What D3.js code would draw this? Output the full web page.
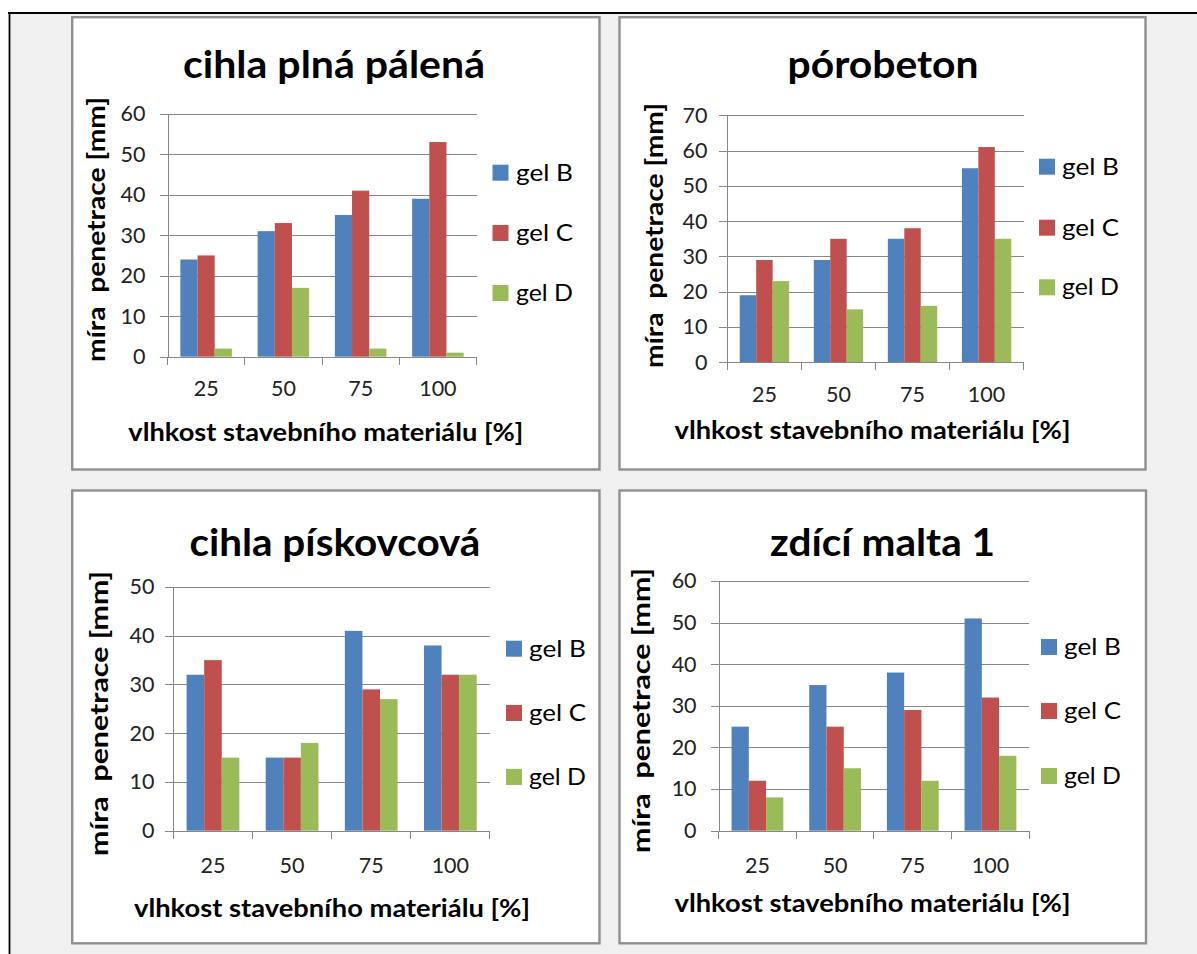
<!DOCTYPE html>
<html lang="cs">
<head>
<meta charset="utf-8">
<title>Míra penetrace gelů podle vlhkosti stavebního materiálu</title>
<script src="https://cdn.jsdelivr.net/npm/d3@7"></script>
<style>
  html, body { margin: 0; padding: 0; background: #ffffff; }
  svg { display: block; }
  text { font-family: Lato, "Open Sans", "DejaVu Sans", sans-serif; }
</style>
</head>
<body>
<svg id="chart" width="1197" height="954"></svg>
<script>
// ---- data ----
const categories = ["25", "50", "75", "100"];
const seriesNames = ["gel B", "gel C", "gel D"];
const seriesColors = ["#4F81BD", "#C0504D", "#9BBB59"];

const panelTitles = ["cihla plná pálená", "pórobeton", "cihla pískovcová", "zdící malta 1"];
const yMaxima = [60, 70, 50, 60];
const yTitle = "míra  penetrace [mm]";
const xTitle = "vlhkost stavebního materiálu [%]";

// cihla plná pálená
const cihlaPlnaB = [24, 31, 35, 39];
const cihlaPlnaC = [25, 33, 41, 53];
const cihlaPlnaD = [2, 17, 2, 1];
// pórobeton
const porobetonB = [19, 29, 35, 55];
const porobetonC = [29, 35, 38, 61];
const porobetonD = [23, 15, 16, 35];
// cihla pískovcová
const piskovcovaB = [32, 15, 41, 38];
const piskovcovaC = [35, 15, 29, 32];
const piskovcovaD = [15, 18, 27, 32];
// zdící malta 1
const maltaB = [25, 35, 38, 51];
const maltaC = [12, 25, 29, 32];
const maltaD = [8, 15, 12, 18];

const panelValues = [
  [cihlaPlnaB, cihlaPlnaC, cihlaPlnaD],
  [porobetonB, porobetonC, porobetonD],
  [piskovcovaB, piskovcovaC, piskovcovaD],
  [maltaB, maltaC, maltaD]
];

// ---- layout of the four chart frames ----
const layouts = [
  { box: [72.2, 17.2, 599.5, 469.5], plot: [167.5, 476.5, 113.7, 356.7],
    title: [334, 78, 302], yT: [105, 229.5, 265], tickPad: 14, xLabPad: 24,
    xT: [325.8, 441, 395], legend: [492.5, [172.7, 233, 293], 516] },
  { box: [619.5, 17.2, 1145.5, 469.5], plot: [727.4, 1023.6, 115.3, 362.3],
    title: [883, 78, 191], yT: [663, 235.5, 265], tickPad: 12, xLabPad: 24.5,
    xT: [872.5, 439, 396], legend: [1039, [166.7, 227.7, 287.3], 1062] },
  { box: [72.2, 490.5, 599.5, 943.3], plot: [173.4, 489.9, 587, 830.7],
    title: [334.9, 556, 291], yT: [108, 713.5, 285], tickPad: 11, xLabPad: 27,
    xT: [332, 917, 396], legend: [506, [648.7, 713, 777], 529] },
  { box: [619.5, 490.5, 1146, 943.3], plot: [718.6, 1029.3, 581, 830.7],
    title: [882.6, 556, 225], yT: [650, 710.5, 285], tickPad: 14, xLabPad: 27,
    xT: [872.5, 912, 396], legend: [1041, [647, 711, 776], 1064] }
];

const svg = d3.select("#chart");
const W = 1197, H = 954;

// page background and the frame lines of the page
svg.append("rect").attr("x", 10).attr("y", 14).attr("width", W - 10).attr("height", H - 14).attr("fill", "#f0f0f0");
svg.append("rect").attr("x", 8).attr("y", 12).attr("width", W - 8).attr("height", 2).attr("fill", "#000");
svg.append("rect").attr("x", 8.6).attr("y", 12).attr("width", 1.8).attr("height", H - 12).attr("fill", "#000");

const gridColor = "#878787";
const textColor = "#222222";

layouts.forEach((L, i) => {
  const g = svg.append("g");
  const [bx0, by0, bx1, by1] = L.box;
  g.append("rect")
    .attr("x", bx0).attr("y", by0).attr("width", bx1 - bx0).attr("height", by1 - by0)
    .attr("fill", "#ffffff").attr("stroke", "#8f8f8f").attr("stroke-width", 2.4);

  const [left, right, top, bottom] = L.plot;
  const y = d3.scaleLinear().domain([0, yMaxima[i]]).range([bottom, top]);
  const x = d3.scaleBand().domain(categories).range([left, right]).paddingInner(0).paddingOuter(0);
  const xs = d3.scaleBand().domain(seriesNames).range([0, x.bandwidth()])
    .paddingInner(0).paddingOuter(0.75);
  const yTicks = d3.range(0, yMaxima[i] + 1, 10);

  // horizontal gridlines
  const grid = g.append("g")
    .attr("transform", `translate(${left},0)`)
    .call(d3.axisLeft(y).tickValues(yTicks).tickSizeInner(-(right - left)).tickSizeOuter(0).tickFormat(""));
  grid.select(".domain").remove();
  grid.selectAll(".tick line").attr("stroke", gridColor).attr("shape-rendering", "crispEdges");

  // value axis with outside tick marks
  const yAxis = g.append("g")
    .attr("transform", `translate(${left},0)`)
    .call(d3.axisLeft(y).tickValues(yTicks).tickSizeInner(8).tickSizeOuter(0).tickPadding(L.tickPad));
  yAxis.select(".domain").attr("stroke", gridColor).attr("shape-rendering", "crispEdges");
  yAxis.selectAll(".tick line").attr("stroke", gridColor).attr("shape-rendering", "crispEdges");
  yAxis.selectAll(".tick text").attr("font-size", 21.5).attr("fill", textColor)
    .attr("font-family", "Lato, sans-serif");

  // bars
  seriesNames.forEach((s, si) => {
    g.append("g").selectAll("rect")
      .data(panelValues[i][si])
      .join("rect")
      .attr("x", (d, ci) => x(categories[ci]) + xs(s))
      .attr("y", d => y(d))
      .attr("width", xs.bandwidth())
      .attr("height", d => y(0) - y(d))
      .attr("fill", seriesColors[si]);
  });

  // category axis: baseline, boundary ticks and labels
  const xAxis = g.append("g")
    .attr("transform", `translate(0,${bottom})`)
    .call(d3.axisBottom(x).tickSize(0).tickPadding(L.xLabPad));
  xAxis.select(".domain").attr("stroke", gridColor).attr("shape-rendering", "crispEdges");
  xAxis.selectAll(".tick text").attr("font-size", 21.5).attr("fill", textColor)
    .attr("font-family", "Lato, sans-serif");
  const bounds = categories.map(c => x(c)).concat([x(categories[categories.length - 1]) + x.bandwidth()]);
  xAxis.selectAll("line.bound").data(bounds).join("line")
    .attr("class", "bound")
    .attr("x1", d => d).attr("x2", d => d)
    .attr("y1", 0).attr("y2", 8)
    .attr("stroke", gridColor).attr("shape-rendering", "crispEdges");

  // chart title
  g.append("text")
    .attr("x", L.title[0]).attr("y", L.title[1])
    .attr("text-anchor", "middle")
    .attr("font-size", 38).attr("font-weight", "bold").attr("fill", "#000")
    .attr("textLength", L.title[2]).attr("lengthAdjust", "spacingAndGlyphs")
    .text(panelTitles[i]);

  // value axis title
  g.append("text")
    .attr("transform", `translate(${L.yT[0]},${L.yT[1]}) rotate(-90)`)
    .attr("text-anchor", "middle")
    .style("white-space", "pre")
    .attr("font-size", 24).attr("font-weight", "bold").attr("fill", "#000")
    .attr("textLength", L.yT[2]).attr("lengthAdjust", "spacingAndGlyphs")
    .text(yTitle);

  // category axis title
  g.append("text")
    .attr("x", L.xT[0]).attr("y", L.xT[1])
    .attr("text-anchor", "middle")
    .attr("font-size", 24).attr("font-weight", "bold").attr("fill", "#000")
    .attr("textLength", L.xT[2]).attr("lengthAdjust", "spacingAndGlyphs")
    .text(xTitle);

  // legend
  const [sqX, rowYs, txX] = L.legend;
  seriesNames.forEach((s, si) => {
    g.append("rect")
      .attr("x", sqX).attr("y", rowYs[si] - 8)
      .attr("width", 16).attr("height", 16)
      .attr("fill", seriesColors[si]);
    g.append("text")
      .attr("x", txX).attr("y", rowYs[si] + 8)
      .attr("font-size", 24).attr("fill", "#000")
      .attr("textLength", 57).attr("lengthAdjust", "spacingAndGlyphs")
      .text(s);
  });
});
</script>
</body>
</html>
